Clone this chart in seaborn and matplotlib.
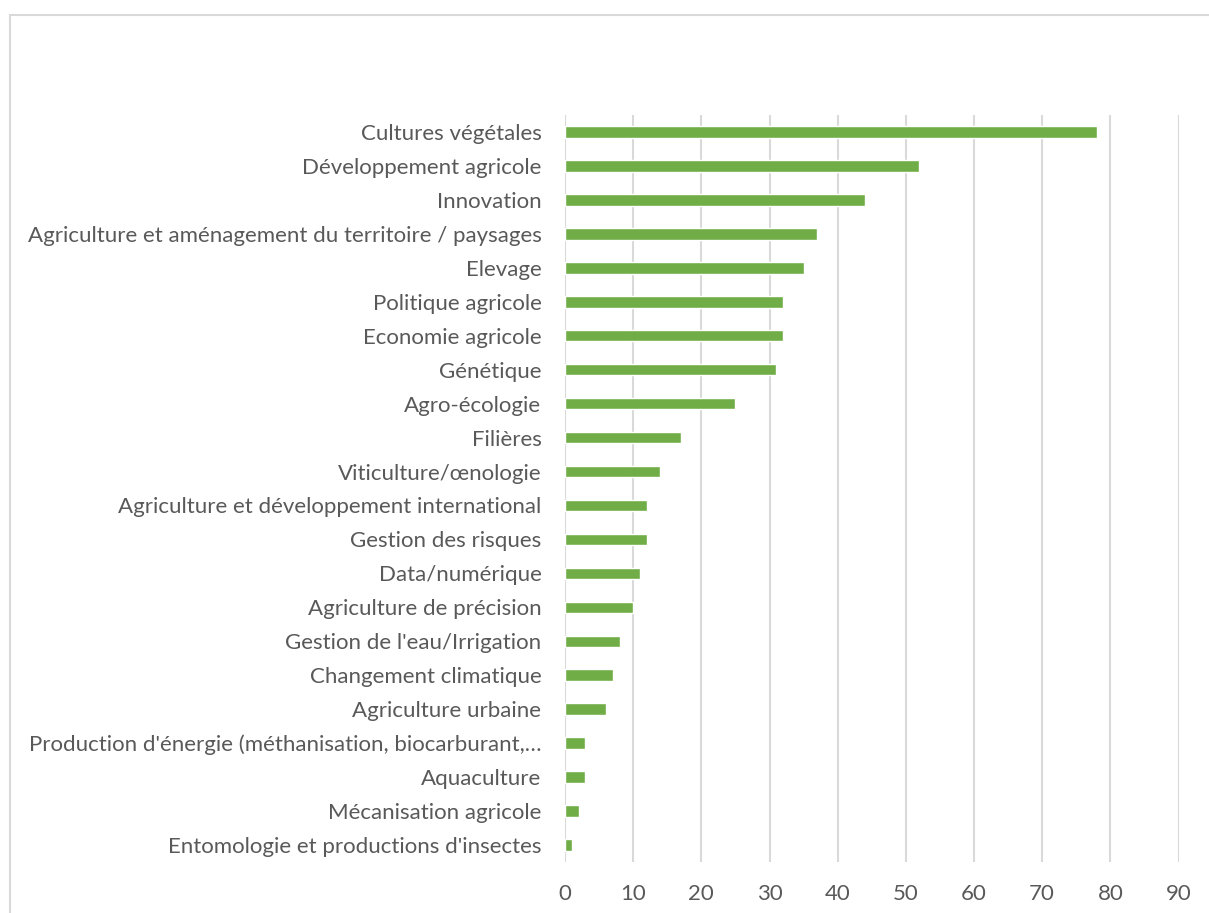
import matplotlib
matplotlib.use("Agg")
import matplotlib.pyplot as plt
from matplotlib.patches import Rectangle
import seaborn as sns
import pandas as pd

categories = [
    "Cultures végétales",
    "Développement agricole",
    "Innovation",
    "Agriculture et aménagement du territoire / paysages",
    "Elevage",
    "Politique agricole",
    "Economie agricole",
    "Génétique",
    "Agro-écologie",
    "Filières",
    "Viticulture/œnologie",
    "Agriculture et développement international",
    "Gestion des risques",
    "Data/numérique",
    "Agriculture de précision",
    "Gestion de l'eau/Irrigation",
    "Changement climatique",
    "Agriculture urbaine",
    "Production d'énergie (méthanisation, biocarburant,…",
    "Aquaculture",
    "Mécanisation agricole",
    "Entomologie et productions d'insectes",
]
counts = [78, 52, 44, 37, 35, 32, 32, 31, 25, 17, 14, 12, 12, 11, 10, 8, 7, 6, 3, 3, 2, 1]
x_ticks = [0, 10, 20, 30, 40, 50, 60, 70, 80, 90]

sns.set_theme(style="white")
plt.rcParams["font.family"] = ["Lato", "DejaVu Sans"]

W, H = 1209, 913
fig = plt.figure(figsize=(W / 100, H / 100), dpi=100)
ax = fig.add_axes([565 / W, 1 - 862 / H, (1178.5 - 565) / W, (862 - 115) / H])

df = pd.DataFrame({"theme": categories, "n": counts})
sns.barplot(data=df, x="n", y="theme", orient="h", color="#70AD47",
            saturation=1, width=0.34, ax=ax)

ax.set_xlim(0, 90)
ax.set_xticks(x_ticks)
ax.set_xlabel("")
ax.set_ylabel("")
ax.grid(axis="x", color="#D9D9D9", linewidth=1.5)
ax.grid(axis="y", visible=False)
ax.set_axisbelow(True)
for s in ax.spines.values():
    s.set_visible(False)
ax.tick_params(axis="y", length=0, pad=17, labelsize=16, labelcolor="#595959")
ax.tick_params(axis="x", length=0, pad=16, labelsize=16, labelcolor="#595959")

# chart frame
fig.add_artist(Rectangle((10 / W, -0.1), 2.0, (H - 15.5) / H + 0.1,
                         transform=fig.transFigure, fill=False,
                         edgecolor="#D9D9D9", linewidth=1.5))

fig.savefig("out.png", dpi=100, facecolor="white")
